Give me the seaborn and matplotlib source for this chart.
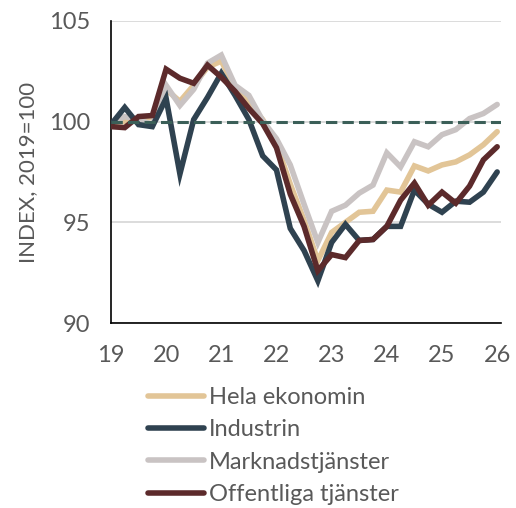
import matplotlib
matplotlib.use('Agg')
import matplotlib.pyplot as plt
import seaborn as sns
import pandas as pd

# Quarterly index, 2019=100
quarters = ['2019Q1', '2019Q2', '2019Q3', '2019Q4', '2020Q1', '2020Q2', '2020Q3', '2020Q4',
            '2021Q1', '2021Q2', '2021Q3', '2021Q4', '2022Q1', '2022Q2', '2022Q3', '2022Q4',
            '2023Q1', '2023Q2', '2023Q3', '2023Q4', '2024Q1', '2024Q2', '2024Q3', '2024Q4',
            '2025Q1', '2025Q2', '2025Q3', '2025Q4', '2026Q1']

hela = [99.95, 100.0, 100.15, 100.2, 101.6, 101.0, 101.8, 102.7,
        103.0, 101.7, 100.9, 100.1, 98.9, 96.9, 95.1, 93.1,
        94.5, 95.0, 95.5, 95.55, 96.6, 96.5, 97.8, 97.55,
        97.85, 98.0, 98.35, 98.85, 99.5]
industrin = [99.85, 100.7, 99.85, 99.75, 101.15, 97.4, 100.1, 101.2,
             102.4, 101.3, 100.1, 98.3, 97.6, 94.7, 93.6, 92.1,
             94.0, 94.9, 94.1, 94.15, 94.8, 94.8, 96.6, 95.9,
             95.5, 96.05, 96.0, 96.5, 97.5]
marknad = [99.9, 100.25, 100.1, 99.85, 101.8, 100.8, 101.6, 102.9,
           103.3, 101.8, 101.3, 100.05, 99.15, 97.85, 95.9, 94.0,
           95.55, 95.85, 96.45, 96.85, 98.45, 97.75, 99.0, 98.75,
           99.35, 99.6, 100.15, 100.4, 100.85]
offentliga = [99.75, 99.7, 100.25, 100.3, 102.6, 102.15, 101.9, 102.8,
              102.2, 101.5, 100.65, 99.9, 98.7, 96.4, 94.8, 92.6,
              93.4, 93.25, 94.1, 94.15, 94.8, 96.1, 96.95, 95.85,
              96.5, 95.95, 96.8, 98.1, 98.75]

x_ticks = [19, 20, 21, 22, 23, 24, 25, 26]
y_ticks = [90, 95, 100, 105]

series = {
    'Hela ekonomin': (hela, '#E2C597', 2),
    'Industrin': (industrin, '#2F4250', 4),
    'Marknadstjänster': (marknad, '#C9C3C3', 3),
    'Offentliga tjänster': (offentliga, '#5C2A2B', 5),
}

periods = pd.PeriodIndex(quarters, freq='Q')
xpos = (periods.year % 100) + (periods.quarter - 1) / 4

sns.set_style('white')
plt.rcParams['font.family'] = ['Lato', 'DejaVu Sans']
text_color = '#595959'

fig = plt.figure(figsize=(5.16, 5.08), dpi=100)
ax = fig.add_axes([0.215, 0.364, 0.756, 0.595])

for name, (vals, color, z) in series.items():
    df = pd.DataFrame({'x': xpos, 'y': vals})
    sns.lineplot(data=df, x='x', y='y', color=color, linewidth=4.0, ax=ax,
                 zorder=z, solid_joinstyle='miter', solid_capstyle='round', label=name)

ax.axhline(100, color='#3B5F58', linewidth=2.2, dashes=(3.7, 1.7), zorder=10)

ax.set_xlim(19, 26.07)
ax.set_ylim(90, 105)
ax.set_xticks(x_ticks)
ax.set_yticks(y_ticks)
ax.set_yticklabels([str(v) for v in y_ticks])
ax.set_xticklabels([str(v) for v in x_ticks])
ax.grid(axis='y', color='#D9D9D9', linewidth=1.3, zorder=0)
ax.set_axisbelow(True)

for s in ['top', 'right']:
    ax.spines[s].set_visible(False)
for s in ['left', 'bottom']:
    ax.spines[s].set_color('black')
    ax.spines[s].set_linewidth(1.2)

ax.tick_params(axis='x', direction='out', length=5, width=1.2, color='black',
               labelsize=17, labelcolor=text_color, pad=11)
ax.tick_params(axis='y', direction='in', length=5, width=1.2, color='black',
               labelsize=17, labelcolor=text_color, pad=15)
ax.set_xlabel('')
ax.set_ylabel('INDEX, 2019=100', fontsize=16, color=text_color, labelpad=8)

# legend below axes, in original order
h, l = ax.get_legend_handles_labels()
ax.get_legend().remove()
order = ['Hela ekonomin', 'Industrin', 'Marknadstjänster', 'Offentliga tjänster']
hs = [h[l.index(n)] for n in order]
leg = fig.legend(hs, order, loc='upper left', bbox_to_anchor=(0.287, 0.238),
                 frameon=False, fontsize=17, handlelength=2.35, handletextpad=0.22,
                 labelspacing=0.48, borderpad=0, borderaxespad=0)
for t in leg.get_texts():
    t.set_color(text_color)

plt.savefig('out.png', dpi=100)
plt.close('all')
